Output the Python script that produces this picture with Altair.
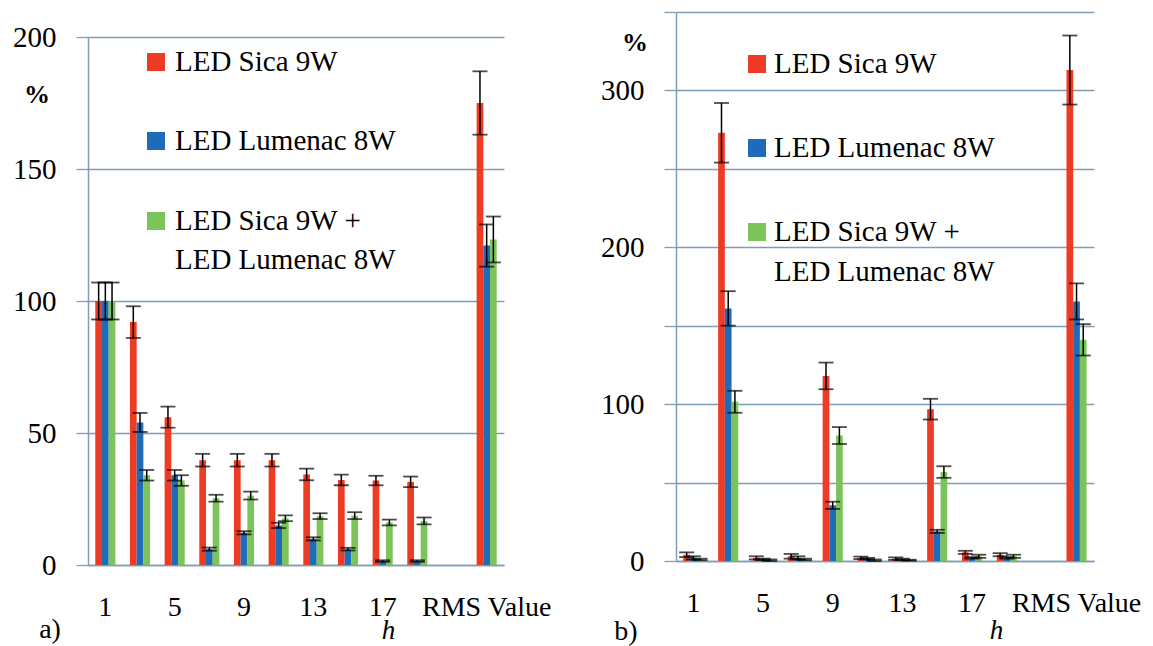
import altair as alt
import pandas as pd

# ---------------- data ----------------
harmonics = ["1", "3", "5", "7", "9", "11", "13", "15", "17", "19", "RMS Value"]
categories = ["1", "3", "5", "7", "9", "11", "13", "15", "17", "19", " ", "RMS Value"]
shown_labels = ["1", "5", "9", "13", "17", "RMS Value"]
series = ["LED Sica 9W", "LED Lumenac 8W", "LED Sica 9W + LED Lumenac 8W"]
colors = ["#EE3B24", "#1E6BB8", "#7DC35C"]

# panel a)
sica_a = [100, 92, 56, 39.7, 39.7, 39.7, 34.3, 32.2, 32, 31.5, 175]
sica_a_err = [7, 6, 4, 2.4, 2.4, 2.4, 2.2, 2, 1.8, 2, 12]
lum_a = [100, 54, 34, 6, 12.2, 15, 9.9, 6, 1.5, 1.5, 121]
lum_a_err = [7, 3.6, 2, 0.6, 0.6, 1, 0.6, 0.5, 0.3, 0.3, 8]
comb_a = [100, 34, 32, 25.3, 26.3, 17.7, 18.5, 18.7, 16.1, 16.7, 123.3]
comb_a_err = [7, 2, 2, 1.3, 1.5, 1.1, 1.1, 1.3, 1.1, 1.3, 8.7]

# panel b)
sica_b = [4, 273, 2, 3, 118, 2, 1.5, 96.8, 5.5, 4, 313]
sica_b_err = [1.5, 19, 1, 1.5, 8.5, 0.8, 0.8, 6.6, 1, 1, 22]
lum_b = [2, 161, 1, 2, 35.5, 1.5, 1, 18.9, 2, 2, 165.5]
lum_b_err = [1, 11, 0.5, 1, 2.3, 0.5, 0.5, 1, 0.5, 0.5, 11.5]
comb_b = [1, 101.5, 0.5, 1, 80, 0.5, 0.5, 56.7, 3, 3, 141]
comb_b_err = [0.5, 7, 0.5, 0.5, 5.4, 0.5, 0.3, 3.7, 1, 1, 10]

FONT = "Liberation Serif"
GRID = "#7F9DB6"


def frame(vals_list, errs_list):
    rows = []
    for s, vals, errs in zip(series, vals_list, errs_list):
        for h, v, e in zip(harmonics, vals, errs):
            rows.append({"h": h, "series": s, "value": v,
                         "lo": max(v - e, 0), "hi": v + e})
    return pd.DataFrame(rows)


def one():
    return alt.Data(values=[{"k": 0}])


def panel(df, ymax, yvalues, label_expr, width, height, top, leg, pct, tag, htitle):
    xscale = alt.Scale(domain=categories, paddingInner=0.42, paddingOuter=0.21)
    xaxis = alt.Axis(
        labelExpr="indexof(" + str(shown_labels) + ", datum.value) >= 0 ? datum.label : ''",
        labelAngle=0, ticks=False, domainColor=GRID, domainWidth=1.5,
        labelFont=FONT, labelFontSize=28, labelColor="black", labelPadding=28,
        labelOverlap=False, labelBound=False,
        title="h", titleFont=FONT, titleFontSize=27, titleFontStyle="italic",
        titleFontWeight="normal", titleX=htitle[0], titleY=htitle[1],
        titleAlign="center", titleBaseline="middle", grid=False,
    )
    yscale = alt.Scale(domain=[0, ymax], nice=False, range=[height, top])
    yaxis = alt.Axis(
        values=yvalues, labelExpr=label_expr, grid=True, gridColor=GRID, gridWidth=1.3,
        domainColor=GRID, domainWidth=1.5, tickColor=GRID, tickSize=12, tickWidth=1.3,
        labelFont=FONT, labelColor="black", labelPadding=20,
        labelFontSize={"condition": {"test": "datum.label == ''", "value": 0}, "value": 29},
        title=None,
    )
    x = alt.X("h:N", sort=categories, scale=xscale, axis=xaxis)
    xo = alt.XOffset("series:N", sort=series,
                     scale=alt.Scale(domain=series, paddingInner=0, paddingOuter=0))
    color = alt.Color("series:N", scale=alt.Scale(domain=series, range=colors), legend=None)

    base = alt.Chart(df)
    bars = base.mark_bar().encode(
        x=x, xOffset=xo, y=alt.Y("value:Q", scale=yscale, axis=yaxis), color=color)
    rules = base.mark_rule(color="black", strokeWidth=1.5).encode(
        x=x, xOffset=xo, y=alt.Y("lo:Q", scale=yscale, axis=yaxis), y2="hi:Q")
    tick_hi = base.mark_tick(color="black", thickness=1.8, size=15).encode(
        x=x, xOffset=xo, y=alt.Y("hi:Q", scale=yscale, axis=yaxis))
    tick_lo = base.mark_tick(color="black", thickness=1.8, size=15).encode(
        x=x, xOffset=xo, y=alt.Y("lo:Q", scale=yscale, axis=yaxis))

    layers = [bars, rules, tick_hi, tick_lo]

    sx, tx, ys, y2 = leg
    for i, s in enumerate(series):
        layers.append(alt.Chart(one()).mark_square(size=324, color=colors[i], opacity=1).encode(
            x=alt.value(sx), y=alt.value(ys[i])))
    texts = [("LED Sica 9W", ys[0]), ("LED Lumenac 8W", ys[1]),
             ("LED Sica 9W +", ys[2]), ("LED Lumenac 8W", y2)]
    for t, yy in texts:
        layers.append(alt.Chart(one()).mark_text(
            text=t, font=FONT, fontSize=29, align="left", baseline="middle", color="black"
        ).encode(x=alt.value(tx), y=alt.value(yy)))

    layers.append(alt.Chart(one()).mark_text(
        text="%", font=FONT, fontSize=26, fontWeight="bold", align="center",
        baseline="middle", color="black").encode(x=alt.value(pct[0]), y=alt.value(pct[1])))
    layers.append(alt.Chart(one()).mark_text(
        text=tag[2], font=FONT, fontSize=28, align="center",
        baseline="middle", color="black").encode(x=alt.value(tag[0]), y=alt.value(tag[1])))

    return alt.layer(*layers).properties(width=width, height=height)


df_a = frame([sica_a, lum_a, comb_a], [sica_a_err, lum_a_err, comb_a_err])
df_b = frame([sica_b, lum_b, comb_b], [sica_b_err, lum_b_err, comb_b_err])

panel_a = panel(df_a, 200, [0, 50, 100, 150, 200], "datum.label",
                416, 553, 25, (68, 87, [50, 129, 209], 248), (-51, 83), (-38, 618, "a)"), (300, 65))
panel_b = panel(df_b, 350, [0, 50, 100, 150, 200, 250, 300, 350],
                "datum.value % 100 == 0 && datum.value < 350 ? datum.label : ''",
                418, 549, 0, (81, 98, [52, 136, 220], 260), (-41, 31), (-50, 620, "b)"), (320, 69))

chart = alt.hconcat(panel_a, panel_b, spacing=48).properties(
    padding={"left": 4, "top": 3, "right": 0, "bottom": 0},
    background="white",
).configure_view(stroke=None)

chart.save("out.html", embed_options={"renderer": "svg", "actions": False})
